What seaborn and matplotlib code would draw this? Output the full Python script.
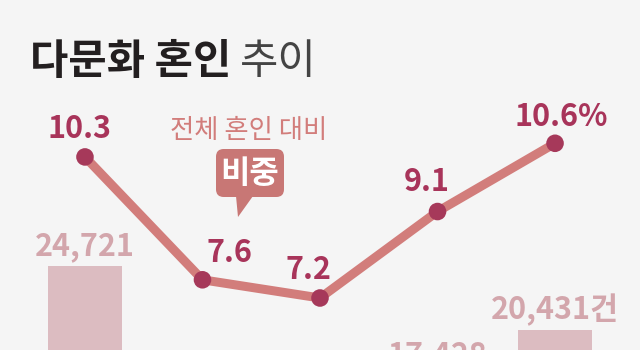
import matplotlib
matplotlib.use("Agg")
import matplotlib.pyplot as plt
import seaborn as sns
import pandas as pd
from matplotlib.patches import FancyBboxPatch, Polygon

# ---- data ----
years = ["2019", "2020", "2021", "2022", "2023"]
ratio = [10.3, 7.6, 7.2, 9.1, 10.6]
ratio_labels = ["10.3", "7.6", "7.2", "9.1", "10.6%"]
marriages = [24721, 16177, 13926, 17428, 20431]
marriage_labels = ["24,721", "16,177", "13,926", "17,428", "20,431건"]
title_bold = "다문화 혼인"
title_light = "추이"
note_text = "전체 혼인 대비"
bubble_text = "비중"

# ---- styles ----
BG = "#f5f5f5"
LINE = "#d27d7b"
DOT = "#a6395a"
LBL = "#a8345a"
BAR = "#dcbcc1"
BARLBL = "#d3a6ac"
BUBBLE = "#c87775"
KR = ["Noto Sans CJK KR", "DejaVu Sans"]

sns.set_theme(style="white")
plt.rcParams["font.family"] = KR

W, H = 640, 350
fig = plt.figure(figsize=(W / 100, H / 100), dpi=100, facecolor=BG)
ax_bar = fig.add_axes([0, 0, 1, 1])
ax_bar.set_facecolor("none")

df = pd.DataFrame({"year": years, "ratio": ratio, "marriages": marriages,
                   "idx": range(len(years))})

sns.barplot(data=df, x="year", y="marriages", order=years, color=BAR,
            width=0.63, saturation=1, ax=ax_bar, zorder=1,
            edgecolor="none", linewidth=0)
ax_line = ax_bar.twinx()
ax_line.set_facecolor("none")
sns.lineplot(data=df, x="idx", y="ratio", color=LINE, linewidth=6.5,
             ax=ax_line, zorder=2)
sns.scatterplot(data=df, x="idx", y="ratio", color=DOT, s=160,
                edgecolor="none", ax=ax_line, zorder=3)

xlim = (-0.723, 4.723)
ax_bar.set_xlim(*xlim)
ax_line.set_xlim(*xlim)
ax_bar.set_ylim(19100, 42560)
ax_line.set_ylim(6.057, 13.749)
for a in (ax_bar, ax_line):
    a.axis("off")

# bar value labels (only those that reach into the visible area)
for i, (v, t) in enumerate(zip(marriages, marriage_labels)):
    top_px = ax_bar.transData.transform((i, v))[1]
    if top_px + 11 + 26 < 0:
        continue
    ax_bar.annotate(t, (i, v), xytext=(0, 11), textcoords="offset pixels",
                    ha="center", va="baseline", fontsize=22, fontweight="bold",
                    color=BARLBL, annotation_clip=False)

# line value labels
offs = [(-5, 19), (27, 18), (-12, 19), (-11, 21), (6, 17)]
for i, (v, t) in enumerate(zip(ratio, ratio_labels)):
    ax_line.annotate(t, (i, v), xytext=offs[i], textcoords="offset pixels",
                     ha="center", va="baseline", fontsize=22,
                     fontweight="bold", color=LBL, annotation_clip=False)

def fx(x):
    return x / W

def fy(y):
    return 1 - y / H

# title
t1 = fig.text(fx(30), fy(74), title_bold, fontsize=30, fontweight="bold",
              color="#231f20", ha="left", va="baseline")
fig.canvas.draw()
bb = t1.get_window_extent()
fig.text(fx(bb.x1 + 9), fy(74), title_light, fontsize=30,
         fontweight="light", color="#444444", ha="left", va="baseline")

# note + bubble
fig.text(fx(249), fy(138), note_text, fontsize=19, color=LINE,
         ha="center", va="baseline", fontweight="regular")

box = FancyBboxPatch((fx(216), fy(197)), fx(68), 48 / H,
                     boxstyle="round,pad=0,rounding_size=0.012",
                     transform=fig.transFigure, facecolor=BUBBLE,
                     edgecolor="none", mutation_aspect=W / H)
fig.patches.append(box)
tail = Polygon([(fx(236), fy(196)), (fx(253), fy(196)), (fx(238), fy(217))],
               closed=True, transform=fig.transFigure, facecolor=BUBBLE,
               edgecolor="none")
fig.patches.append(tail)
fig.text(fx(250), fy(174), bubble_text, fontsize=23, fontweight="bold",
         color="white", ha="center", va="center")

fig.savefig("out.png", dpi=100, facecolor=BG)
